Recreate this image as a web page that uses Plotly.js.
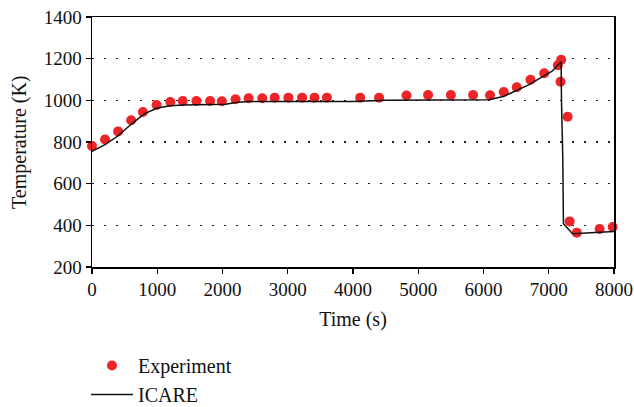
<!DOCTYPE html>
<html>
<head>
<meta charset="utf-8">
<script src="https://cdn.plot.ly/plotly-3.0.1.min.js"></script>
<style>
  html, body { margin: 0; padding: 0; background: #fff; }
  #chart { width: 634px; height: 407px; }
</style>
</head>
<body>
<div id="chart"></div>
<script>
// Measured temperatures (Experiment)
const expTime = [0, 200, 400, 600, 780, 990, 1200, 1390, 1600, 1810, 1990, 2200, 2400, 2610, 2800, 3010, 3220, 3410, 3600, 4110, 4400, 4820, 5150, 5500, 5840, 6100, 6310, 6510, 6720, 6930, 7140, 7190, 7180, 7290, 7320, 7430, 7780, 7980];
const expTemp = [781, 812, 851, 904, 944, 978, 992, 997, 997, 997, 996, 1005, 1010, 1010, 1013, 1013, 1013, 1013, 1013, 1013, 1013, 1023, 1026, 1026, 1026, 1024, 1040, 1063, 1099, 1130, 1168, 1195, 1089, 921, 419, 365, 382, 392];

// Simulated temperatures (ICARE)
const icareTime = [0, 100, 200, 400, 600, 800, 1000, 1200, 1400, 2050, 2200, 2400, 4000, 4500, 6080, 6300, 6500, 6700, 6880, 7050, 7190, 7195, 7215, 7225, 7365, 7540, 8000];
const icareTemp = [755, 770, 787, 830, 885, 935, 963, 974, 978, 981, 990, 995, 995, 1000, 1003, 1018, 1045, 1075, 1109, 1140, 1185, 1000, 728, 408, 360, 363, 371];

const xTicks = [0, 1000, 2000, 3000, 4000, 5000, 6000, 7000, 8000];
const yTicks = [200, 400, 600, 800, 1000, 1200, 1400];

const serif = 'Liberation Serif, Times New Roman, serif';

const traces = [
  {
    x: expTime, y: expTemp, name: 'Experiment',
    type: 'scatter', mode: 'markers',
    marker: { color: '#ec2528', size: 10 },
    cliponaxis: false
  },
  {
    x: icareTime, y: icareTemp, name: 'ICARE',
    type: 'scatter', mode: 'lines',
    line: { color: '#111', width: 1.5 }
  }
];

const axisCommon = {
  showline: true, linecolor: '#000', linewidth: 1.5, mirror: true,
  ticks: 'outside', ticklen: 5, tickwidth: 1.2, tickcolor: '#000',
  zeroline: false, automargin: true,
  tickfont: { family: serif, size: 19, color: '#111' }
};

const layout = {
  width: 634, height: 407,
  margin: { l: 92, r: 20, t: 17, b: 140, autoexpand: false },
  paper_bgcolor: '#fff', plot_bgcolor: '#fff',
  font: { family: serif, color: '#111' },
  xaxis: Object.assign({}, axisCommon, {
    range: [0, 8000], tickvals: xTicks,
    showgrid: false,
    title: { text: 'Time (s)', font: { family: serif, size: 20 }, standoff: 12 }
  }),
  yaxis: Object.assign({}, axisCommon, {
    range: [200, 1400], tickvals: yTicks,
    showgrid: true, gridcolor: '#222', gridwidth: 1.5, griddash: '1.5px,10.5px'
  }),
  // vertical axis label, placed left of the tick labels
  annotations: [{
    text: 'Temperature (K)',
    xref: 'paper', yref: 'paper', x: 0, y: 0.5,
    xanchor: 'center', yanchor: 'middle', xshift: -73,
    textangle: -90, showarrow: false,
    font: { family: serif, size: 20, color: '#111' }
  }],
  showlegend: true,
  legend: {
    xref: 'container', yref: 'container',
    x: 0.1356, y: 0.15, xanchor: 'left', yanchor: 'top',
    itemwidth: 42, tracegroupgap: 0,
    font: { family: serif, size: 20, color: '#111' },
    bgcolor: 'rgba(0,0,0,0)'
  }
};

Plotly.newPlot('chart', traces, layout, { displayModeBar: false, staticPlot: true });
</script>
</body>
</html>
